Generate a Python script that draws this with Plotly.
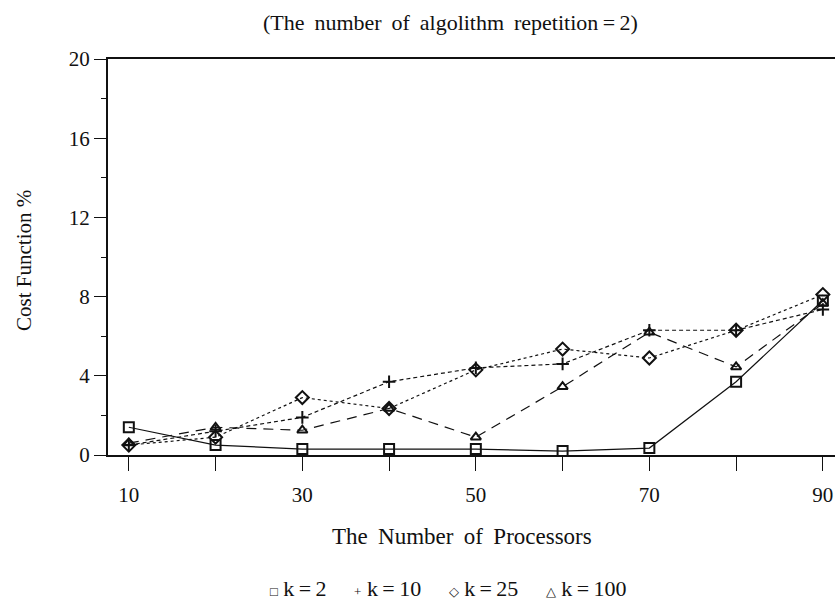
import plotly.graph_objects as go

processors = [10, 20, 30, 40, 50, 60, 70, 80, 90]
cost_k2 = [1.4, 0.5, 0.3, 0.3, 0.3, 0.2, 0.35, 3.7, 7.8]
cost_k10 = [0.5, 1.2, 1.9, 3.7, 4.4, 4.6, 6.3, 6.3, 7.35]
cost_k25 = [0.5, 0.9, 2.9, 2.35, 4.3, 5.35, 4.9, 6.3, 8.1]
cost_k100 = [0.6, 1.4, 1.25, 2.35, 0.9, 3.45, 6.2, 4.45, 7.65]

series_names = ["k=2", "k=10", "k=25", "k=100"]
y_tick_vals = [0, 4, 8, 12, 16, 20]
x_tick_vals = [10, 20, 30, 40, 50, 60, 70, 80, 90]
x_tick_text = ["10", "", "30", "", "50", "", "70", "", "90"]

FONT = "Liberation Serif, Times New Roman, serif"
ink = "#111111"
SP = "\u2009 "  # slightly wide word gap, as in the typeset original

fig = go.Figure()
styles = [
    (cost_k2, "solid", "square-open", 10),
    (cost_k10, "4px,3px", "cross-thin-open", 9),
    (cost_k25, "dot", "diamond-open", 10),
    (cost_k100, "10px,7px", "triangle-up-open", 9),
]
for name, (vals, dash, sym, size) in zip(series_names, styles):
    fig.add_trace(go.Scatter(
        x=processors, y=vals, name=name, mode="lines+markers",
        line=dict(color=ink, width=1.2, dash=dash),
        marker=dict(symbol=sym, size=size, color=ink,
                    line=dict(color=ink, width=2)),
        showlegend=False,
    ))

fig.update_layout(
    width=835, height=607,
    margin=dict(l=108, r=0, t=59, b=152),
    paper_bgcolor="white", plot_bgcolor="white",
    font=dict(family=FONT, size=21, color=ink),
)
fig.update_xaxes(
    range=[7.6, 91.4], showgrid=False, zeroline=False,
    tickmode="array", tickvals=x_tick_vals, ticktext=x_tick_text,
    ticks="outside", ticklen=14, tickwidth=1.2, tickcolor=ink,
    ticklabelstandoff=6,
    showline=True, linewidth=2, linecolor=ink, mirror=True,
    tickfont=dict(family=FONT, size=21),
)
fig.update_yaxes(
    range=[0, 20], showgrid=False, zeroline=False,
    tickmode="array", tickvals=y_tick_vals,
    ticks="outside", ticklen=12, tickwidth=1.2, tickcolor=ink,
    minor=dict(dtick=2, tick0=0, ticks="outside", ticklen=5, tickwidth=1.2, tickcolor=ink),
    showline=True, linewidth=2, linecolor=ink,
    tickfont=dict(family=FONT, size=21),
)

title_txt = SP.join(["(The", "number", "of", "algolithm", "repetition\u2009=\u20092)"])
fig.add_annotation(text=title_txt,
                   xref="paper", yref="paper", x=(450 - 108) / 727, y=(455 - 22) / 396,
                   showarrow=False, xanchor="center", yanchor="middle",
                   font=dict(family=FONT, size=22))
fig.add_annotation(text=SP.join(["The", "Number", "of", "Processors"]),
                   xref="paper", yref="paper", x=(462 - 108) / 727, y=(455 - 536) / 396,
                   showarrow=False, xanchor="center", yanchor="middle",
                   font=dict(family=FONT, size=23))
fig.add_annotation(text="Cost Function %",
                   xref="paper", yref="paper", x=(24 - 108) / 727, y=0.49, textangle=-90,
                   showarrow=False, xanchor="center", yanchor="middle",
                   font=dict(family=FONT, size=21))

sym_chars = ["\u25a1", "+", "\u25c7", "\u25b3"]
legend_parts = []
for ch, nm in zip(sym_chars, series_names):
    label = nm.replace("=", "\u2009=\u2009")
    legend_parts.append(f"<span style='font-size:13px'>{ch}</span> {label}")
fig.add_annotation(text="\u2003 ".join(legend_parts),
                   xref="paper", yref="paper", x=(448 - 108) / 727, y=(455 - 588) / 396,
                   showarrow=False, xanchor="center", yanchor="middle",
                   font=dict(family=FONT, size=22))

fig.write_html("out.html")
